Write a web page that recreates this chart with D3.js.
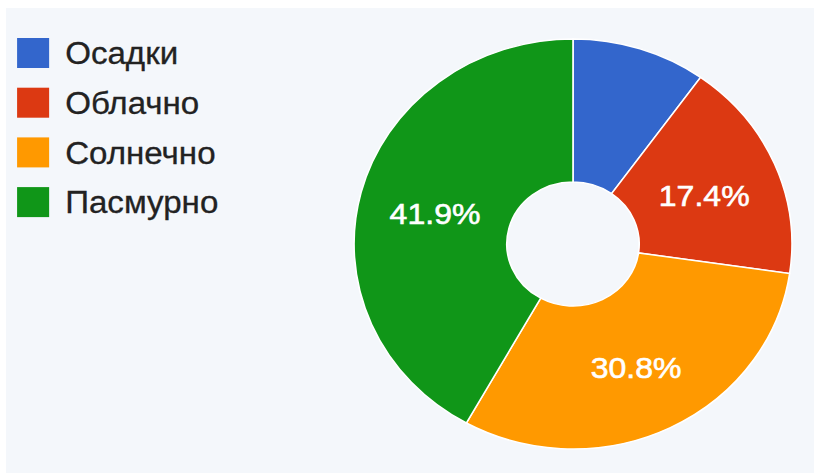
<!DOCTYPE html>
<html>
<head>
<meta charset="utf-8">
<script src="https://cdn.jsdelivr.net/npm/d3@7"></script>
<style>
  html, body { margin: 0; padding: 0; background: #ffffff; }
  svg { display: block; }
</style>
</head>
<body>
<div id="chart"></div>
<script>
// chart data
var categories = ['Осадки', 'Облачно', 'Солнечно', 'Пасмурно'];
var values = [9.9, 17.4, 30.8, 41.9];
var colors = ['#3366cc', '#dc3912', '#ff9900', '#109618'];

var width = 814, height = 473;
// the picture is a bit wider than tall, so stretch the whole drawing on x
var sx = 1.068;

var svg = d3.select('#chart').append('svg')
  .attr('width', width)
  .attr('height', height);

// panel background
svg.append('rect')
  .attr('x', 6).attr('y', 8)
  .attr('width', width - 6).attr('height', height - 8)
  .attr('fill', '#f4f7fb');

var root = svg.append('g').attr('transform', 'scale(' + sx + ',1)');

var outer = 205, inner = 62;
var pieG = root.append('g')
  .attr('transform', 'translate(' + (573 / sx) + ',244)');

var pie = d3.pie().sort(null).value(function (d) { return d; });
var arc = d3.arc().innerRadius(inner).outerRadius(outer);
var total = d3.sum(values);
var fmt = d3.format('.1%');

var slices = pie(values);

pieG.selectAll('path')
  .data(slices)
  .enter().append('path')
  .attr('d', arc)
  .attr('fill', function (d, i) { return colors[i]; })
  .attr('stroke', '#ffffff')
  .attr('stroke-width', 1.5);

// percentage labels, small slices stay empty
pieG.selectAll('text')
  .data(slices.filter(function (d) { return d.value / total >= 0.1; }))
  .enter().append('text')
  .attr('transform', function (d) {
    var c = arc.centroid(d);
    return 'translate(' + c[0] + ',' + (c[1] + 3) + ')';
  })
  .attr('text-anchor', 'middle')
  .attr('dy', '0.36em')
  .style('font-family', 'Liberation Sans, Arial, sans-serif')
  .style('font-size', '30px')
  .style('fill', '#ffffff')
  .style('stroke', '#ffffff')
  .style('stroke-width', 0.6)
  .text(function (d) { return fmt(d.value / total); });

// legend
var legend = root.append('g').attr('transform', 'translate(16,38)');
var rows = legend.selectAll('g')
  .data(categories)
  .enter().append('g')
  .attr('transform', function (d, i) { return 'translate(0,' + (i * 49.7) + ')'; });

rows.append('rect')
  .attr('width', 30).attr('height', 30)
  .attr('fill', function (d, i) { return colors[i]; });

rows.append('text')
  .attr('x', 45)
  .attr('y', 15)
  .attr('dy', '0.36em')
  .style('font-family', 'Liberation Sans, Arial, sans-serif')
  .style('font-size', '31px')
  .style('fill', '#222222')
  .style('stroke', '#222222')
  .style('stroke-width', 0.3)
  .text(function (d) { return d; });
</script>
</body>
</html>
